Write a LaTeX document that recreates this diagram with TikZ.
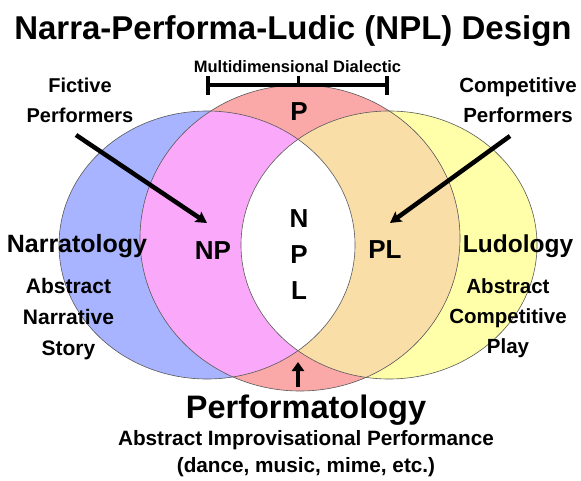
\documentclass[tikz,border=0pt]{standalone}
\usepackage{fontspec}
\setmainfont{Liberation Sans}
\usetikzlibrary{arrows.meta}
\tikzset{
  txt/.style 2 args={font=\bfseries\fontsize{#1}{#2}\selectfont},
  outline/.style={draw=black!65, line width=0.6pt},
  pointer/.style={line width=4.5pt, -{Stealth[length=11pt,width=12pt,inset=2pt]}},
  uppointer/.style={line width=4pt, -{Triangle[length=9pt,width=12pt]}}
}
\def\leftoval{(207,235) ellipse [x radius=148pt, y radius=134pt]}
\def\rightoval{(389,235) ellipse [x radius=148pt, y radius=134pt]}
\def\midoval{(300,242) ellipse [x radius=160pt, y radius=153pt]}
\begin{document}
\begin{tikzpicture}[x=1pt,y=1pt,every node/.style={inner sep=0pt, anchor=base, align=center}]
\definecolor{narrblue}{RGB}{168,180,255}
\definecolor{npmagenta}{RGB}{250,168,250}
\definecolor{perfred}{RGB}{250,168,168}
\definecolor{plorange}{RGB}{250,222,168}
\definecolor{ludyellow}{RGB}{255,255,170}
\useasboundingbox (0,0) rectangle (581,480);
% Single domains
\fill[narrblue] \leftoval;
\fill[ludyellow] \rightoval;
\fill[perfred] \midoval;
% Overlaps with performance
\begin{scope}
  \clip \midoval;
  \fill[npmagenta] \leftoval;
  \fill[plorange] \rightoval;
\end{scope}
% Centre lens
\begin{scope}
  \clip \leftoval;
  \fill[white] \rightoval;
\end{scope}
\draw[outline] \leftoval;
\draw[outline] \rightoval;
\draw[outline] \midoval;
% Dialectic bar
\draw[line width=4pt] (208,395) -- (387,395);
\draw[line width=4pt] (208,385) -- (208,404);
\draw[line width=4pt] (387,385) -- (387,404);
\draw[line width=3pt] (298,395) -- (298,404);
% Labels (base = last line)
\node[txt={33}{40}] (title) at (293,440.5) {Narra-Performa-Ludic (NPL) Design};
\node[txt={16.5}{20}] (dialectic) at (297.5,407.5) {Multidimensional Dialectic};
\node[txt={20}{30}] (fictive) at (80,357) {Fictive\\Performers};
\node[txt={20.5}{30}] (competitive) at (518,357) {Competitive\\Performers};
\node[txt={25}{30}] (narratology) at (77,227) {Narratology};
\node[txt={24.5}{30}] (ludology) at (518,227) {Ludology};
\node[txt={21}{31}] (narrdesc) at (68.5,125) {Abstract\\Narrative\\Story};
\node[txt={20.5}{30}] (luddesc) at (508,127) {Abstract\\Competitive\\Play};
\node[txt={26}{30}] (regionP) at (299,359) {P};
\node[txt={26}{30}] (regionNP) at (213,221) {NP};
\node[txt={26}{30}] (regionPL) at (385,222) {PL};
\node[txt={26}{36}] (regionNPL) at (299,181) {N\\P\\L};
\node[txt={32.5}{36}] (performatology) at (306,62) {Performatology};
\node[txt={20.75}{27}] (perfdesc) at (306,8) {Abstract Improvisational Performance\\(dance, music, mime, etc.)};
% Pointers
\coordinate (fictiveTail) at (76,345);
\coordinate (npTip) at (207,257);
\coordinate (compTail) at (510,344);
\coordinate (plTip) at (390,257);
\coordinate (perfTail) at (298,93);
\coordinate (nplTip) at (298,118);
\draw[pointer] (fictiveTail) -- (npTip);
\draw[pointer] (compTail) -- (plTip);
\draw[uppointer] (perfTail) -- (nplTip);
\end{tikzpicture}
\end{document}
